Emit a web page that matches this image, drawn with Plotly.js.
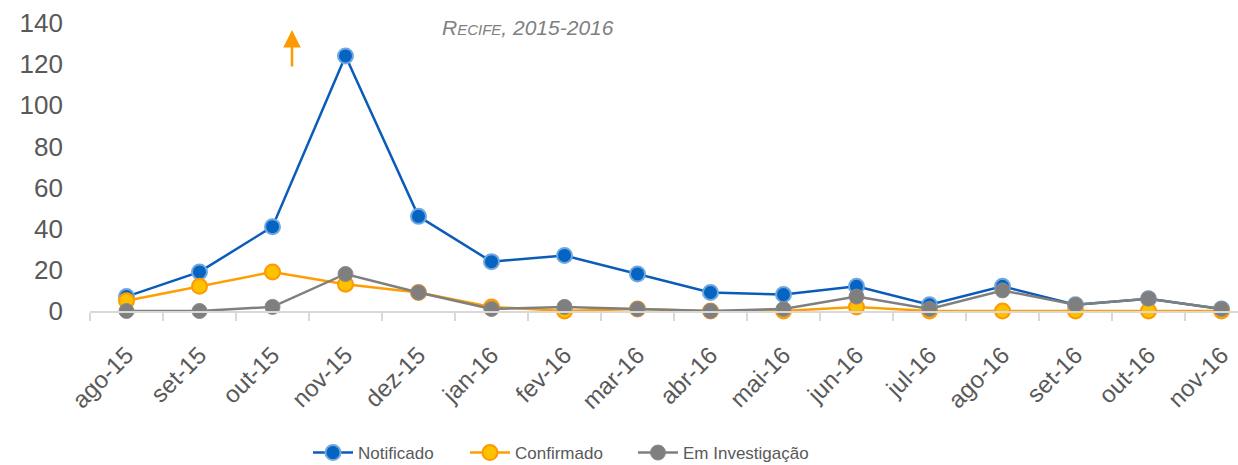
<!DOCTYPE html>
<html>
<head>
<meta charset="utf-8">
<script src="https://cdn.plot.ly/plotly-3.0.1.min.js"></script>
<style>html,body{margin:0;padding:0;background:#fff;}#chart{width:1238px;height:465px;}</style>
</head>
<body>
<div id="chart"></div>
<script>
const months = ["ago-15","set-15","out-15","nov-15","dez-15","jan-16","fev-16","mar-16","abr-16","mai-16","jun-16","jul-16","ago-16","set-16","out-16","nov-16"];
const notificado = [7, 19, 41, 124, 46, 24, 27, 18, 9, 8, 12, 3, 12, 3, 6, 1];
const confirmado = [5, 12, 19, 13, 9, 2, 0, 1, 0, 0, 2, 0, 0, 0, 0, 0];
const emInvestigacao = [0, 0, 2, 18, 9, 1, 2, 1, 0, 1, 7, 1, 10, 3, 6, 1];
const seriesNames = ["Notificado", "Confirmado", "Em Investigação"];
const subtitle = "Recife, 2015-2016";

const FONT = "Liberation Sans, Arial, sans-serif";
const GREY = "#595959";

const traces = [
  {x: months, y: notificado, name: seriesNames[0], type: "scatter", mode: "lines+markers",
   legend: "legend",
   line: {color: "#0A5CB8", width: 2.5},
   marker: {size: 15, color: "#0563C1", line: {color: "#6FA8E0", width: 2}},
   cliponaxis: false},
  {x: months, y: confirmado, name: seriesNames[1], type: "scatter", mode: "lines+markers",
   legend: "legend2",
   line: {color: "#FF9E00", width: 2.5},
   marker: {size: 15, color: "#FFC000", line: {color: "#FF9900", width: 2}},
   cliponaxis: false},
  {x: months, y: emInvestigacao, name: seriesNames[2], type: "scatter", mode: "lines+markers",
   legend: "legend3",
   line: {color: "#7F7F7F", width: 2.5},
   marker: {size: 15, color: "#7F7F7F", line: {color: "#8A8A8A", width: 1}},
   cliponaxis: false}
];

function leg(xpx) {
  return {orientation: "h", xref: "container", yref: "container",
          x: xpx / 1238, xanchor: "left", y: 1 - 453 / 465, yanchor: "middle",
          font: {family: FONT, size: 17, color: GREY}, itemwidth: 40, bgcolor: "rgba(0,0,0,0)"};
}

const layout = {
  width: 1238, height: 465,
  margin: {l: 90, r: 0, t: 23, b: 154},
  paper_bgcolor: "#ffffff", plot_bgcolor: "#ffffff",
  showlegend: true,
  legend: leg(308),
  legend2: leg(465),
  legend3: leg(633),
  xaxis: {
    type: "category", range: [-0.5, 15.226],
    showgrid: false, zeroline: false,
    showline: true, linecolor: "#D9D9D9", linewidth: 1.5,
    ticks: "outside", tickson: "boundaries", ticklen: 8, tickcolor: "#D9D9D9", tickwidth: 1.5,
    tickangle: -45, ticklabelstandoff: 19,
    tickfont: {family: FONT, size: 24, color: GREY}
  },
  yaxis: {
    range: [0, 140], tickvals: [0, 20, 40, 60, 80, 100, 120, 140],
    showgrid: false, zeroline: false, showline: false,
    ticks: "", ticklabelstandoff: 26,
    tickfont: {family: FONT, size: 26, color: GREY}
  },
  annotations: [
    {xref: "x", yref: "y", x: 2.267, y: 136.6, ax: 0, ay: 38, text: "", showarrow: true,
     arrowhead: 2, arrowsize: 1.4, arrowwidth: 2.5, arrowcolor: "#FF9900"},
    {xref: "paper", yref: "paper", x: (440 - 90) / 1148, y: 0.986, xanchor: "left", yanchor: "middle",
     text: subtitle, showarrow: false,
     font: {family: FONT, size: 21, color: "#7F7F7F", style: "italic", variant: "small-caps"}}
  ]
};

Plotly.newPlot("chart", traces, layout, {displayModeBar: false, staticPlot: true});
</script>
</body>
</html>
